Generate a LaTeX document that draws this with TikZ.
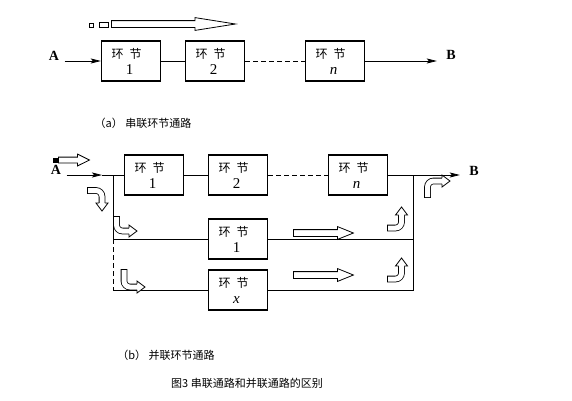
\documentclass[tikz,border=0pt]{standalone}
\usepackage{fontspec}
\setmainfont{Liberation Serif}
\newfontfamily\cjk{Noto Sans CJK SC}
\usetikzlibrary{arrows.meta,shapes.arrows}

\tikzset{
	stage/.style={draw, line width=1.4pt, minimum width=59pt, minimum height=40pt,
		inner sep=0pt, align=center, font=\fontsize{12}{16}\selectfont},
	wire/.style={line width=0.8pt},
	dashwire/.style={line width=0.8pt, dash pattern=on 5pt off 3pt},
	hollow/.style={white, line width=5pt, rounded corners=6pt,
		preaction={draw=black, line width=6.6pt, shorten <=-0.8pt}},
	tip/.pic={\draw[fill=white, line width=0.8pt] (0,2.9) -- (0,6) -- (8,0) -- (0,-6) -- (0,-2.9);},
	flat/.style={single arrow, draw, line width=0.8pt, inner xsep=0pt, inner ysep=3pt,
		single arrow head extend=3pt, anchor=tail},
	label/.style={font=\cjk\fontsize{11}{11}\selectfont},
	term/.style={font=\fontsize{14}{14}\selectfont\bfseries},
	>={Stealth[length=10pt,width=5pt,inset=2pt]}
}
\newcommand{\stagetext}[1]{{\cjk 环\hspace{6pt}节}\hspace*{9pt}\\{\fontsize{15}{15}\selectfont #1}\hspace*{3pt}}

\begin{document}
\begin{tikzpicture}[x=1pt, y=-1pt]
	\useasboundingbox (0,0) rectangle (572,400);
	
	% (a)
	\node (a1) [stage] at (131,61) {\stagetext{1}};
	\node (a2) [stage] at (215,61) {\stagetext{2}};
	\node (an) [stage] at (335,61) {\stagetext{\textit{n}}};
	\node (A1) [term] at (54,56) {A};
	\node (B1) [term] at (451,55) {B};
	
	\draw[wire, ->, shorten <=2pt] (A1.east |- a1) -- (a1);
	\draw[wire] (a1) -- (a2);
	\draw[dashwire] (a2) -- (an);
	\draw[wire, ->] (an) -- ([xshift=-6pt]B1.west |- an);
	
	\draw[line width=0.8pt] (89,23) rectangle (93,27);
	\draw[line width=0.8pt] (99,22) rectangle (108,27);
	\node (flow) [flat, minimum height=124pt, single arrow tip angle=18] at (111,24) {};
	
	\node (capa) [label] at (143,123) {（a）\ 串联环节通路};
	
	% (b)
	\node (b1) [stage] at (154,175) {\stagetext{1}};
	\node (b2) [stage] at (238,175) {\stagetext{2}};
	\node (bn) [stage] at (358,175) {\stagetext{\textit{n}}};
	\node (p1) [stage] at (238,239) {\stagetext{1}};
	\node (px) [stage] at (238,290) {\stagetext{\textit{x}}};
	\node (A2) [term] at (56,170) {A};
	\node (B2) [term] at (474,171) {B};
	
	\coordinate (Lt) at (113,175);
	\coordinate (Lm) at (113,239);
	\coordinate (Lb) at (113,290);
	\coordinate (Rt) at (413,175);
	\coordinate (Rm) at (413,239);
	\coordinate (Rb) at (413,290);
	\coordinate (Ain) at (102,175);
	
	\draw[wire, ->, shorten <=2pt] (A2.east |- Lt) -- (Ain);
	\draw[wire] (Ain) -- (b1);
	\draw[wire] (b1) -- (b2);
	\draw[dashwire] (b2) -- (bn);
	\draw[wire, ->] (bn) -- ([xshift=-6pt]B2.west |- bn);
	\draw[wire] (Lt) -- (Lm) -- (p1);
	\draw[dashwire] (Lm) -- (Lb);
	\draw[wire] (Lb) -- (px);
	\draw[wire] (p1) -- (Rm);
	\draw[wire] (px) -- (Rb) -- (Rt);
	
	\fill (53,157.5) rectangle (58,162.5);
	\node (flowb) [flat, inner ysep=2.5pt, minimum height=31pt, single arrow tip angle=53] at (58,160) {};
	
	\draw[hollow] (88,190.5) -- (102,190.5) -- (102,203);
	\pic[rotate=-90] at (102,203) {tip};
	\draw[hollow] (116.5,217) -- (116.5,231) -- (129,231);
	\pic at (129,231) {tip};
	\draw[hollow] (124,270) -- (124,287) -- (137,287);
	\pic at (137,287) {tip};
	
	\node (flow1) [flat, minimum height=60pt, single arrow tip angle=44] at (293,233) {};
	\node (flowx) [flat, minimum height=60pt, single arrow tip angle=44] at (293,275) {};
	
	\draw[hollow] (388,228) -- (401.5,228) -- (401.5,215);
	\pic[rotate=90] at (401.5,215) {tip};
	\draw[hollow] (388,279) -- (401.5,279) -- (401.5,266);
	\pic[rotate=90] at (401.5,266) {tip};
	\draw[hollow] (427.5,197) -- (427.5,181) -- (442,181);
	\pic at (442,181) {tip};
	
	\node (capb) [label] at (166,355) {（b）\ 并联环节通路};
	\node (cap) [label] at (247,383) {图3\ 串联通路和并联通路的区别};
\end{tikzpicture}
\end{document}
